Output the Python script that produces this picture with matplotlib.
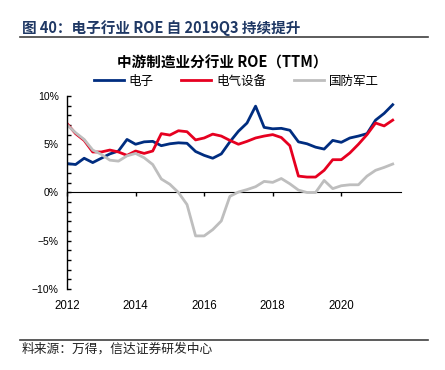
import numpy as np
import matplotlib
matplotlib.use('Agg')
import matplotlib.pyplot as plt
from matplotlib.ticker import MultipleLocator, FuncFormatter

plt.rcParams['font.family'] = ['Noto Sans CJK SC', 'DejaVu Sans']

# quarterly ROE (TTM), 2012Q1 .. 2021Q3, in %
electronics = [3.0, 2.9, 3.55, 3.1, 3.55, 4.0, 4.3, 5.5, 5.0, 5.25,
               5.3, 4.85, 5.05, 5.15, 5.1, 4.25, 3.85, 3.55, 4.0, 5.25,
               6.35, 7.2, 8.95, 6.75, 6.6, 6.65, 6.45, 5.25, 5.05, 4.7,
               4.5, 5.4, 5.2, 5.65, 5.85, 6.1, 7.5, 8.2, 9.1]
electrical = [7.15, 6.1, 5.4, 4.2, 4.2, 4.4, 4.2, 3.85, 4.3, 4.05,
              4.3, 6.1, 5.95, 6.4, 6.3, 5.45, 5.65, 6.05, 5.85, 5.4,
              5.0, 5.3, 5.65, 5.85, 6.0, 5.7, 4.85, 1.7, 1.6, 1.6,
              2.3, 3.4, 3.4, 4.1, 5.0, 6.0, 7.2, 6.9, 7.5]
defense = [7.0, 6.2, 5.5, 4.4, 3.95, 3.35, 3.25, 3.8, 4.05, 3.6,
           2.9, 1.4, 0.85, 0.0, -1.25, -4.5, -4.5, -3.85, -2.95, -0.4,
           0.05, 0.3, 0.6, 1.15, 1.05, 1.45, 0.9, 0.25, 0.0, 0.0,
           1.25, 0.4, 0.7, 0.8, 0.8, 1.7, 2.3, 2.6, 2.95]
t = 2012 + np.arange(len(electronics)) * 0.25

series_names = ['电子', '电气设备', '国防军工']
series_colors = ['#002D80', '#E60020', '#BEBEBE']
year_ticks = [2012, 2014, 2016, 2018, 2020]

fig = plt.figure(figsize=(4.45, 3.7), dpi=100)
ax = fig.add_axes([0.1506, 0.219, 0.7504, 0.5215])

for vals, name, c in zip([electronics, electrical, defense], series_names, series_colors):
    ax.plot(t, vals, color=c, lw=2, label=name)

ax.set_xlim(2012, 2021.74)
ax.set_ylim(-10, 10)
ax.yaxis.set_major_locator(MultipleLocator(5))
ax.yaxis.set_minor_locator(MultipleLocator(1))
ax.yaxis.set_major_formatter(FuncFormatter(lambda v, p: '%d%%' % v if v >= 0 else '\u2212%d%%' % -v))
ax.tick_params(axis='y', which='both', direction='in', length=3, width=1, pad=6,
               labelsize=7.5)
for lab in ax.get_yticklabels():
    lab.set_family(['Liberation Sans', 'DejaVu Sans'])

ax.set_xticks(year_ticks)
ax.set_xticklabels([str(y) for y in year_ticks], fontsize=8.3, family='Liberation Sans')
ax.tick_params(axis='x', length=0, pad=8)

for s in ['top', 'right', 'bottom']:
    ax.spines[s].set_visible(False)
ax.spines['left'].set_linewidth(1)

# zero line with small upward ticks
sec = ax.secondary_xaxis(0.5)
sec.set_xticks(year_ticks)
sec.tick_params(axis='x', direction='in', length=3, width=1, labelbottom=False)
sec.set_xticklabels([])
sec.spines['bottom'].set_linewidth(1.2)

# header
fig.text(22 / 445, 1 - 28 / 370, '图 40：电子行业 ROE 自 2019Q3 持续提升', fontsize=10.5,
         fontweight='bold', color='#1F3864', va='center', ha='left')
fig.add_artist(plt.Line2D([20 / 445, 428 / 445], [1 - 37 / 370, 1 - 37 / 370],
                          color='#404040', lw=1.2))
fig.text(222 / 445, 1 - 63 / 370, '中游制造业分行业 ROE（TTM）', fontsize=10.5,
         fontweight='bold', color='black', va='center', ha='center')

fig.legend(loc='center', bbox_to_anchor=(236 / 445, 1 - 81 / 370), ncol=3, frameon=False,
           fontsize=9, handlelength=2.4, handletextpad=0.4, columnspacing=2.2,
           borderpad=0, borderaxespad=0)

# footer
fig.add_artist(plt.Line2D([20 / 445, 428 / 445], [1 - 340 / 370, 1 - 340 / 370],
                          color='#404040', lw=1.2))
fig.text(22 / 445, 1 - 349 / 370, '料来源：万得，信达证券研发中心', fontsize=9.2,
         style='italic', color='#222222', va='center', ha='left')

fig.savefig('out.png', dpi=100)
